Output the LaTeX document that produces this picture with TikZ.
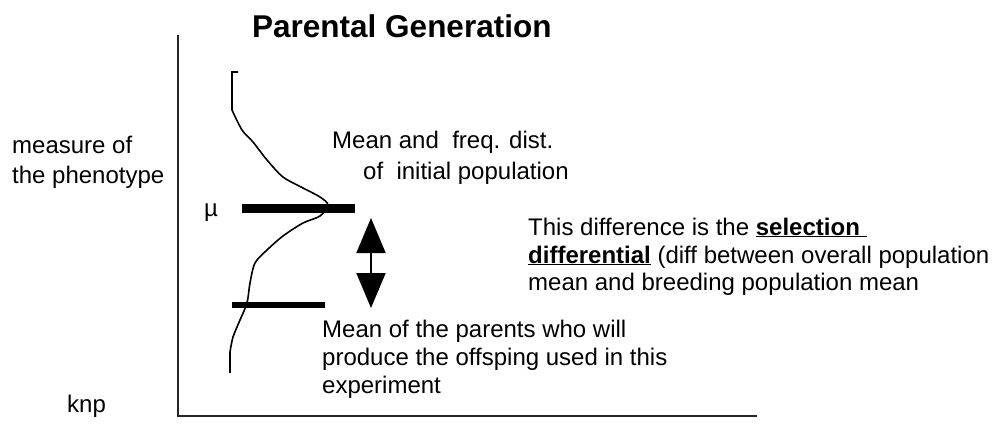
\documentclass[tikz,border=0pt]{standalone}
\usepackage{fontspec}
\setmainfont{Liberation Sans}
\usetikzlibrary{arrows.meta}
\tikzset{
  lbl/.style={anchor=base west, inner sep=0pt, font=\fontsize{24}{28}\selectfont},
  axisline/.style={line width=2.5pt, black!85},
  curveline/.style={line width=1.6pt, line join=miter},
  meanbar/.style={line width=#1},
  diffarrow/.style={line width=2pt, {Triangle[length=35pt,width=29pt]}-{Triangle[length=35pt,width=29pt]}}
}
\newcommand{\ulbold}[1]{\underline{\textbf{#1}}}
\begin{document}
\begin{tikzpicture}[x=1pt,y=-1pt]
\useasboundingbox (0,0) rectangle (992,423);
% title
\node[anchor=base west, inner sep=0pt, font=\fontsize{31.5}{36}\selectfont\bfseries] (title) at (252,37) {Parental Generation};
% axes
\coordinate (ytop) at (178,35);
\coordinate (origin) at (178,416);
\coordinate (xend) at (757,416);
\draw[axisline] (ytop) -- (origin) -- (xend);
% axis labels
\node[lbl] (meas1) at (12,153) {measure of};
\node[lbl] (meas2) at (12,183) {the phenotype};
\node[lbl] (knp) at (67,412) {knp};
\node[lbl] (mu) at (204,216) {µ};
% distribution curve
\draw[curveline] (238,72) -- (232,72) -- (232,110)
  plot[smooth, tension=0.5] coordinates {(232,110) (242,130) (253,142) (267,160) (283,177) (303,188) (320,197) (328,205)
   (320,216) (303,223) (283,236) (267,250) (255,263) (250,283) (247,303) (240,320) (233,337) (230,352)}
  -- (230,373);
% mean bars
\coordinate (mubarL) at (242,208);
\coordinate (mubarR) at (355,208);
\draw[meanbar=9pt] (mubarL) -- (mubarR);
\coordinate (parbarL) at (232,305);
\coordinate (parbarR) at (325,305);
\draw[meanbar=6pt] (parbarL) -- (parbarR);
% double arrow
\coordinate (atop) at (371,218);
\coordinate (abot) at (371,308);
\draw[diffarrow] (atop) -- (abot);
% annotations
\node[lbl] (ini1) at (332,148) {Mean and\ \ freq. dist.};
\node[lbl] (ini2) at (363,179) {of\ \ initial population};
\node[lbl] (sel1) at (528,235) {This difference is the \ulbold{selection\ }};
\node[lbl] (sel2) at (528,263) {\ulbold{differential} (diff between overall population};
\node[lbl] (sel3) at (528,290) {mean and breeding population mean};
\node[lbl] (par1) at (322,337) {Mean of the parents who will};
\node[lbl] (par2) at (322,365) {produce the offsping used in this};
\node[lbl] (par3) at (322,393) {experiment};
\end{tikzpicture}
\end{document}
